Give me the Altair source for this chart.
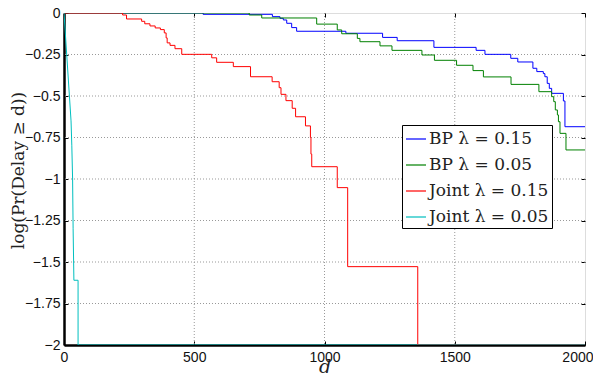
import altair as alt
import pandas as pd

series_names = ["BP λ = 0.15", "BP λ = 0.05", "Joint λ = 0.15", "Joint λ = 0.05"]
series_colors = ["#0000ff", "#008000", "#ff0000", "#00bfbf"]

# BP lambda = 0.15 (step changes)
bp15_d = [0, 534, 800, 829, 842, 855, 874, 893, 1082, 1223, 1279, 1420, 1582, 1616,
          1715, 1742, 1800, 1815, 1840, 1846, 1855, 1863, 1872, 1917, 1923, 2000]
bp15_v = [0, -0.008, -0.022, -0.032, -0.042, -0.062, -0.088, -0.11, -0.122, -0.147, -0.167,
          -0.207, -0.225, -0.249, -0.273, -0.295, -0.333, -0.353, -0.365, -0.384, -0.424,
          -0.454, -0.484, -0.53, -0.685, -0.685]

# BP lambda = 0.05
bp05_d = [0, 711, 759, 970, 1049, 1066, 1126, 1136, 1213, 1259, 1374, 1422, 1507, 1570,
          1610, 1716, 1823, 1872, 1880, 1886, 1894, 1898, 1904, 1927, 2000]
bp05_v = [0, -0.012, -0.03, -0.067, -0.102, -0.125, -0.153, -0.173, -0.198, -0.225, -0.253,
          -0.285, -0.315, -0.347, -0.385, -0.43, -0.474, -0.504, -0.534, -0.584, -0.614,
          -0.655, -0.725, -0.825, -0.825]

# Joint lambda = 0.15
j15_d = [0, 225, 240, 298, 310, 330, 350, 370, 385, 392, 396, 407, 426, 452, 567, 586, 650,
         716, 799, 826, 833, 852, 876, 889, 927, 946, 948, 951, 1049, 1089, 1358, 2000]
j15_v = [0, -0.012, -0.036, -0.05, -0.065, -0.078, -0.09, -0.1, -0.12, -0.15, -0.18, -0.195,
         -0.215, -0.249, -0.27, -0.297, -0.323, -0.384, -0.414, -0.45, -0.49, -0.528, -0.574,
         -0.625, -0.68, -0.75, -0.85, -0.926, -1.052, -1.528, -2.0, -2.0]

# Joint lambda = 0.05 (drawn with straight segments)
j05_d = [0, 27, 30, 33, 35, 38, 54, 54, 2000]
j05_v = [0, -0.65, -0.8, -1.0, -1.3, -1.61, -1.61, -2.0, -2.0]

x_ticks = [0, 500, 1000, 1500, 2000]
y_ticks = [0, -0.25, -0.5, -0.75, -1, -1.25, -1.5, -1.75, -2]

rows = []
for name, ds, vs in [(series_names[0], bp15_d, bp15_v),
                     (series_names[1], bp05_d, bp05_v),
                     (series_names[2], j15_d, j15_v),
                     (series_names[3], j05_d, j05_v)]:
    for i, (d, v) in enumerate(zip(ds, vs)):
        rows.append({"series": name, "d": d, "v": v, "idx": i})
df = pd.DataFrame(rows)

step_df = df[df["series"] != series_names[3]]
lin_df = df[df["series"] == series_names[3]]

xgrid_df = pd.DataFrame({"d": x_ticks[1:-1]})
ygrid_df = pd.DataFrame({"v": y_ticks[1:-1]})

xscale = alt.Scale(domain=[0, 2000], nice=False, zero=False)
yscale = alt.Scale(domain=[-2, 0], nice=False, zero=False)

color = alt.Color(
    "series:N",
    scale=alt.Scale(domain=series_names, range=series_colors),
    sort=series_names,
    legend=alt.Legend(
        title=None, orient="none", legendX=338, legendY=112,
        fillColor="white", strokeColor="black", padding=3,
        symbolType="stroke", symbolSize=400, symbolStrokeWidth=1.2,
        labelFont="DejaVu Serif", labelFontSize=17, labelColor="#222",
        rowPadding=7, labelOffset=2, symbolOffset=0,
    ),
)

last_x = "datum.value == " + str(x_ticks[-1])

main_x_axis = alt.Axis(values=x_ticks, format="d", grid=False, ticks=False, domain=True,
                       domainColor="black", domainWidth=2.5, labelFont="Liberation Sans",
                       labelFontSize=14, labelColor="#111", labelPadding=5, labelFlush=False,
                       labelAlign={"condition": {"test": last_x, "value": "right"},
                                   "value": "center"},
                       labelOffset={"condition": {"test": last_x, "value": 8}, "value": 0},
                       title="d", titleFont="DejaVu Serif", titleFontStyle="italic",
                       titleFontSize=19, titleFontWeight="normal", titleY=27,
                       titleBaseline="alphabetic", titleColor="#222")
main_y_axis = alt.Axis(values=y_ticks, format=".2~f", grid=False, ticks=False, domain=True,
                       domainColor="black", domainWidth=2.5, labelFont="Liberation Sans",
                       labelFontSize=14, labelColor="#111", labelPadding=4, labelFlush=False,
                       title="log(Pr(Delay ≥ d))", titleFont="DejaVu Serif",
                       titleFontSize=17, titleFontWeight="normal", titleX=-37,
                       titleY=157, titleColor="#222")

grid_x = alt.Chart(xgrid_df).mark_rule(color="#999", strokeWidth=1, strokeDash=[1, 2]).encode(
    x=alt.X("d:Q", scale=xscale, axis=None)
)
grid_y = alt.Chart(ygrid_df).mark_rule(color="#999", strokeWidth=1, strokeDash=[1, 2]).encode(
    y=alt.Y("v:Q", scale=yscale, axis=None)
)

steps = alt.Chart(step_df).mark_line(interpolate="step-after", strokeWidth=1, clip=True).encode(
    x=alt.X("d:Q", scale=xscale, axis=main_x_axis),
    y=alt.Y("v:Q", scale=yscale, axis=main_y_axis),
    color=color,
    order=alt.Order("idx:Q"),
)

lin = alt.Chart(lin_df).mark_line(interpolate="linear", strokeWidth=1, clip=True).encode(
    x=alt.X("d:Q", scale=xscale, axis=None),
    y=alt.Y("v:Q", scale=yscale, axis=None),
    color=color,
    order=alt.Order("idx:Q"),
)

def tick_axis(orient, vals):
    return alt.Axis(orient=orient, values=vals, labels=False, grid=False, domain=False,
                    ticks=True, tickSize=4, tickColor="black", tickWidth=1, offset=-4,
                    title=None)

ticks_bl = alt.Chart(lin_df).mark_point(opacity=0).encode(
    x=alt.X("d:Q", scale=xscale, axis=tick_axis("bottom", x_ticks)),
    y=alt.Y("v:Q", scale=yscale, axis=tick_axis("left", y_ticks)),
)
ticks_tr = alt.Chart(lin_df).mark_point(opacity=0).encode(
    x=alt.X("d:Q", scale=xscale, axis=tick_axis("top", x_ticks)),
    y=alt.Y("v:Q", scale=yscale, axis=tick_axis("right", y_ticks)),
)

chart = alt.layer(grid_x, grid_y, steps, lin, ticks_bl, ticks_tr).resolve_axis(
    x="independent", y="independent"
).properties(
    width=521, height=332,
    autosize=alt.AutoSizeParams(type="none"),
    padding={"left": 56, "top": 5, "right": 8, "bottom": 30},
).configure_view(
    stroke="black", strokeWidth=1.5
).configure_legend(
    strokeWidth=1.5
).configure(background="white")

chart.save("out.html", embed_options={"renderer": "svg", "actions": False})
